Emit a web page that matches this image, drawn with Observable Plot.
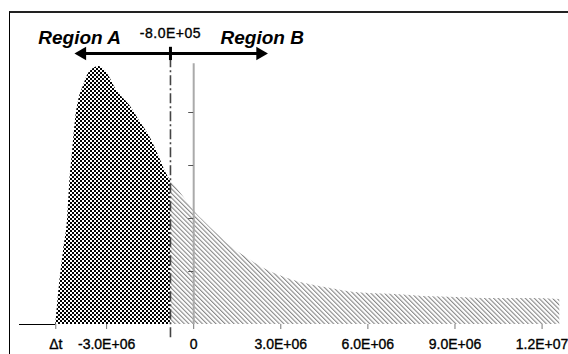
<!DOCTYPE html>
<html><head><meta charset="utf-8">
<script src="https://cdn.jsdelivr.net/npm/d3@7"></script>
<script src="https://cdn.jsdelivr.net/npm/@observablehq/plot@0.6"></script>
<style>
html,body{margin:0;padding:0;background:#fff;}
#wrap{position:relative;width:568px;height:354px;overflow:hidden;}
#wrap svg{position:absolute;left:0;top:0;}
#border{position:absolute;left:9px;top:11px;width:600px;height:400px;border-left:1px solid #000;border-top:2px solid #222;box-sizing:border-box;pointer-events:none;}
</style></head><body>
<div id="wrap"><div id="border"></div></div>
<script>
// ---- data ----
const xDomain = [-6.0e6, 1.26e7];
const deltaT = -4.75e6;
const threshold = -8.0e5;

// Region A (checkered) curve samples
const regionAX = [-4.75e6, -4.62e6, -4.48e6, -4.34e6, -4.27e6, -4.17e6, -4.06e6, -3.96e6, -3.79e6, -3.62e6, -3.27e6, -2.93e6, -2.69e6, -2.20e6, -1.83e6, -1.48e6, -1.21e6, -0.96e6, -0.80e6];
const regionAY = [0, 0.77, 1.40, 2.02, 2.66, 3.28, 3.91, 4.23, 4.51, 4.74, 4.87, 4.70, 4.45, 4.13, 3.81, 3.51, 3.19, 2.87, 2.72];

// Region B (hatched) curve samples
const regionBX = [-0.80e6, -0.38e6, 0, 0.41e6, 0.83e6, 1.27e6, 1.86e6, 2.31e6, 2.89e6, 3.34e6, 4.03e6, 4.72e6, 5.65e6, 6.79e6, 7.92e6, 9.09e6, 10.23e6, 11.61e6, 12.61e6];
const regionBY = [2.72, 2.43, 2.15, 1.92, 1.70, 1.47, 1.25, 1.09, 0.94, 0.85, 0.75, 0.68, 0.60, 0.57, 0.53, 0.51, 0.49, 0.49, 0.47];

const xTicks = [deltaT, -3.0e6, 0, 3.0e6, 6.0e6, 9.0e6, 1.2e7];
const xTickLabels = ["Δt", "-3.0E+06", "0", "3.0E+06", "6.0E+06", "9.0E+06", "1.2E+07"];
const yTicks = [1, 2, 3, 4];
const yAxisTop = 4.92;

// annotations
const regionLabels = ["Region A", "Region B"];
const regionLabelX = [-3.93e6, 2.36e6];
const regionLabelY = 5.30;
const thresholdLabel = "-8.0E+05";
const thresholdLabelY = 5.40;
const arrowY = 5.113;
const arrowHeadX = [-3.84e6, 2.29e6];
const arrowTickY = [4.98, 5.23];
const dashY = [-0.25, 5.1];

// ---- build ----
const A = regionAX.map((x, i) => ({x, y: regionAY[i]}));
const B = regionBX.map((x, i) => ({x, y: regionBY[i]}));
const heads = [{x: arrowHeadX[0], y: arrowY, rot: -90}, {x: arrowHeadX[1], y: arrowY, rot: 90}];
const labelsData = regionLabels.map((t, i) => ({t, x: regionLabelX[i], y: regionLabelY}));

const font = "Arial, 'Liberation Sans', sans-serif";
const plot = Plot.plot({
  width: 568, height: 354,
  marginTop: 0, marginRight: 0, marginBottom: 30, marginLeft: 0,
  x: {domain: xDomain, range: [19, 559], axis: null},
  y: {domain: [0, 5], range: [324, 59], axis: null},
  style: {fontFamily: font, background: "transparent", color: "#000", overflow: "visible"},
  marks: [
    Plot.areaY(A, {x: "x", y: "y", fill: "url(#checker)", curve: "monotone-x"}),
    Plot.areaY(B, {x: "x", y: "y", fill: "url(#hatch)", curve: "monotone-x"}),
    Plot.ruleY([0], {x1: xDomain[0], x2: deltaT, stroke: "#000", strokeWidth: 1}),
    Plot.ruleX([0], {y1: 0, y2: yAxisTop, stroke: "#aaa", strokeWidth: 2}),
    Plot.ruleY(yTicks, {x1: 0, x2: 0, insetLeft: -5, stroke: "#555"}),
    Plot.ruleX([threshold], {y1: dashY[0], y2: dashY[1], stroke: "#444", strokeWidth: 1.6, strokeDasharray: "10,3,2,3"}),
    Plot.axisX({ticks: xTicks, tickFormat: d => xTickLabels[xTicks.indexOf(d)], tickSize: 5, tickPadding: 10, fontSize: 14, stroke: "#777", label: null, className: "xax"}),
    Plot.ruleY([arrowY], {x1: arrowHeadX[0], x2: arrowHeadX[1], stroke: "#000", strokeWidth: 3}),
    Plot.dot(heads, {x: "x", y: "y", rotate: "rot", symbol: "triangle", r: 5, fill: "#000"}),
    Plot.ruleX([threshold], {y1: arrowTickY[0], y2: arrowTickY[1], stroke: "#000", strokeWidth: 3}),
    Plot.text(labelsData, {x: "x", y: "y", text: "t", fontSize: 19, fontWeight: "bold", fontStyle: "italic", lineAnchor: "bottom", textAnchor: "middle", fill: "#000"}),
    Plot.text([thresholdLabel], {x: threshold, y: thresholdLabelY, text: d => d, fontSize: 14, lineAnchor: "bottom", textAnchor: "middle", fill: "#000", className: "thr"})
  ]
});

const svg = d3.select(plot);
svg.selectAll(".thr text").attr("letter-spacing", "0.5px").attr("stroke", "#000").attr("stroke-width", 0.35);
svg.selectAll(".xax text").attr("stroke", "#000").attr("stroke-width", 0.35);
const defs = svg.insert("defs", ":first-child");
const ck = defs.append("pattern").attr("id", "checker").attr("patternUnits", "userSpaceOnUse").attr("width", 4).attr("height", 4);
ck.append("rect").attr("width", 4).attr("height", 4).attr("fill", "#fff");
ck.append("rect").attr("width", 2).attr("height", 2).attr("fill", "#000");
ck.append("rect").attr("x", 2).attr("y", 2).attr("width", 2).attr("height", 2).attr("fill", "#000");
const ht = defs.append("pattern").attr("id", "hatch").attr("patternUnits", "userSpaceOnUse").attr("width", 3.2).attr("height", 3.2).attr("patternTransform", "rotate(-45)");
ht.append("rect").attr("width", 3.2).attr("height", 3.2).attr("fill", "#fff");
ht.append("rect").attr("width", 1.1).attr("height", 3.2).attr("fill", "#888");

document.getElementById("wrap").insertBefore(plot, document.getElementById("border"));
</script>
</body></html>
